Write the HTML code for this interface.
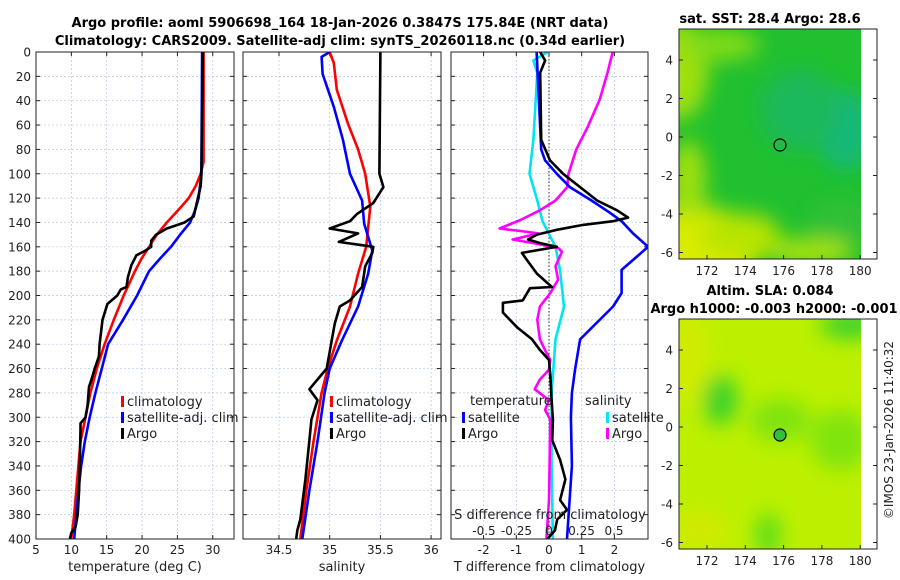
<!DOCTYPE html>
<html><head><meta charset="utf-8"><style>
body{margin:0;background:#fff;}
svg{display:block;font-family:"DejaVu Sans","Liberation Sans",sans-serif;}
</style></head><body>
<svg id="chart" width="900" height="580" viewBox="0 0 900 580">
<defs>
<filter id="blur" x="-50%" y="-50%" width="200%" height="200%"><feGaussianBlur stdDeviation="10"/></filter>
<clipPath id="clipMap1"><rect x="679" y="29" width="182" height="230"/></clipPath>
<clipPath id="clipMap2"><rect x="679" y="319" width="182" height="230"/></clipPath>
<clipPath id="clipP1"><rect x="36" y="52" width="198" height="487"/></clipPath>
<clipPath id="clipP2"><rect x="243" y="52" width="198" height="487"/></clipPath>
<clipPath id="clipP3"><rect x="451" y="52" width="197" height="487"/></clipPath>
</defs>
<text x="340" y="27" font-size="13" font-weight="bold" text-anchor="middle">Argo profile: aoml 5906698_164 18-Jan-2026 0.3847S 175.84E (NRT data)</text>
<text x="340" y="45" font-size="13" font-weight="bold" text-anchor="middle">Climatology: CARS2009. Satellite-adj clim: synTS_20260118.nc (0.34d earlier)</text>

<g>
<text x="770" y="23" font-size="13" font-weight="bold" text-anchor="middle">sat. SST: 28.4 Argo: 28.6</text>
<g clip-path="url(#clipMap1)">
<rect x="679" y="29" width="182" height="230" fill="#20c030"/>
<g filter="url(#blur)">
<ellipse cx="690" cy="250" rx="70" ry="45" fill="#d8ec00"/>
<ellipse cx="740" cy="235" rx="40" ry="22" fill="#b8e400"/>
<ellipse cx="680" cy="70" rx="28" ry="50" fill="#a0e010"/>
<ellipse cx="720" cy="45" rx="40" ry="16" fill="#80dc18"/>
<ellipse cx="688" cy="180" rx="18" ry="40" fill="#a0e010"/>
<ellipse cx="810" cy="252" rx="45" ry="14" fill="#a8e20c"/>
<ellipse cx="845" cy="130" rx="28" ry="40" fill="#18b878"/>
<ellipse cx="800" cy="110" rx="40" ry="40" fill="#1cb85c"/>
<ellipse cx="840" cy="220" rx="30" ry="20" fill="#30c038"/>
</g>
</g>
<rect x="679" y="29" width="198" height="230" fill="none" stroke="#222" stroke-width="1"/>
<circle cx="780" cy="145" r="6" fill="none" stroke="#000" stroke-width="1.2"/>
<g id="map1ticks"></g>
</g>

<g>
<text x="770" y="295" font-size="13" font-weight="bold" text-anchor="middle">Altim. SLA: 0.084</text>
<text x="774" y="313" font-size="13" font-weight="bold" text-anchor="middle">Argo h1000: -0.003 h2000: -0.001</text>
<g clip-path="url(#clipMap2)">
<rect x="679" y="319" width="182" height="230" fill="#bcf000"/>
<g filter="url(#blur)">
<ellipse cx="720" cy="400" rx="18" ry="25" fill="#3ad22a"/>
<ellipse cx="850" cy="325" rx="30" ry="14" fill="#3ad22a"/>
<ellipse cx="780" cy="420" rx="30" ry="22" fill="#80e40c"/>
<ellipse cx="840" cy="440" rx="30" ry="30" fill="#80e40c"/>
<ellipse cx="768" cy="535" rx="12" ry="22" fill="#54dc1c"/>
<ellipse cx="690" cy="360" rx="20" ry="50" fill="#d0ec00"/>
<ellipse cx="700" cy="530" rx="30" ry="20" fill="#d0ea00"/>
</g>
</g>
<rect x="679" y="319" width="198" height="230" fill="none" stroke="#222" stroke-width="1"/>
<circle cx="780" cy="435" r="6" fill="#2ec23a" stroke="#000" stroke-width="1.2"/>
<g id="map2ticks"></g>
<text transform="translate(893,430) rotate(-90)" font-size="12" text-anchor="middle" fill="#222">©IMOS 23-Jan-2026 11:40:32</text>
</g>

<g id="plots"></g>
</svg>
<script>
const depthTicks = [0,20,40,60,80,100,120,140,160,180,200,220,240,260,280,300,320,340,360,380,400];
const tempTicks = [5,10,15,20,25,30];
const salTicks = [34.5,35,35.5,36];
const tdiffTicks = [-2,-1,0,1,2];
const sdiffTicks = [-0.5,-0.25,0,0.25,0.5];
const sdiffTickLabels = ["-0.5","-0.25","0","0.25","0.5"];

const climTDepth = [0,90,100,110,120,130,140,150,160,170,180,200,220,240,260,280,300,320,340,360,380,400];
const climTVal   = [28.7,28.7,28.3,27.6,26.6,25.1,23.5,22.1,21.0,19.9,19.0,17.4,16.0,14.7,13.6,12.7,12.0,11.3,11.0,10.7,10.4,10.0];
const satTDepth = [0,100,110,120,130,140,150,160,170,180,200,220,240,260,280,300,320,340,360,380,400];
const satTVal   = [28.5,28.4,28.2,28.0,27.5,26.8,25.4,24.1,22.5,21.0,19.3,17.3,15.2,14.3,13.4,12.6,11.9,11.4,11.0,10.7,10.4];
const argoTDepth = [0,100,110,120,135,140,143,145,150,155,160,163,167,175,185,193,195,200,207,220,240,250,260,270,275,290,300,305,310,340,360,380,390,395,400];
const argoTVal   = [28.6,28.4,28.3,27.9,27.3,26.0,24.5,23.5,22.0,21.3,21.3,20.5,19.2,18.5,18.0,17.8,17.0,16.5,15.1,14.4,14.0,13.9,13.3,12.8,12.5,12.3,12.0,11.3,11.3,11.2,11.1,10.9,10.6,10.0,9.8];

const climSDepth = [0,9,31,59,80,100,127,160,182,209,237,260,280,320,360,400];
const climSVal   = [35.0,35.04,35.07,35.18,35.28,35.35,35.40,35.36,35.28,35.20,35.07,34.98,34.92,34.84,34.77,34.71];
const satSDepth = [0,4,18,45,72,100,122,141,163,182,209,237,260,280,320,360,400];
const satSVal   = [35.0,34.92,34.93,35.04,35.13,35.20,35.32,35.34,35.42,35.38,35.28,35.12,35.0,34.95,34.88,34.80,34.73];
const argoSDepth = [0,100,111,124,133,139,145,149,156,160,165,176,193,204,209,223,237,260,269,277,286,302,319,351,384,393,400];
const argoSVal   = [35.5,35.49,35.53,35.43,35.27,35.2,35.0,35.28,35.09,35.43,35.42,35.35,35.32,35.2,35.1,35.05,35.02,34.97,34.88,34.80,34.88,34.82,34.80,34.76,34.71,34.68,34.67];

const satTdDepth = [0,80,89,100,111,122,132,139,149,160,179,198,209,236,260,280,300,340,400];
const satTdVal   = [-0.38,-0.24,-0.12,0.24,0.64,1.3,1.86,2.22,2.57,3.03,2.22,2.22,1.96,0.95,0.8,0.7,0.67,0.7,0.55];
const argoTdDepth = [0,7,17,72,89,100,111,122,130,136,139,142,146,150,154,157,160,165,171,182,193,194,204,206,214,226,236,245,253,269,286,302,319,335,351,368,376,384,393,400];
const argoTdVal   = [-0.27,-0.12,-0.27,-0.24,0.03,0.43,0.95,1.47,2.08,2.42,1.96,1.04,0.24,-0.37,-0.64,-0.27,0.24,-0.83,-0.67,-0.37,0.09,-0.58,-0.8,-1.41,-1.41,-0.98,-0.52,-0.27,0.0,0.05,0.08,0.12,0.1,0.34,0.5,0.34,0.55,0.25,0.18,-0.05];
const satSdDepth = [0,7,17,72,100,122,139,160,179,209,236,280,340,400];
const satSdVal   = [-0.01,-0.12,-0.09,-0.12,-0.15,-0.09,-0.05,0.05,0.085,0.115,0.05,0.02,0.02,0.03];
const argoSdDepth = [0,17,39,61,80,100,111,122,130,138,145,147,149,154,157,161,164,176,187,198,209,220,236,245,253,261,269,277,286,294,302,368,400];
const argoSdVal   = [0.49,0.45,0.39,0.30,0.21,0.15,0.14,0.05,-0.07,-0.22,-0.38,-0.22,-0.08,-0.28,-0.12,0.07,0.10,0.05,0.07,0.01,-0.07,-0.09,-0.07,-0.03,0.01,0.0,-0.07,-0.11,0.0,-0.03,0.01,0.0,-0.02];

const latTicks = [4,2,0,-2,-4,-6];
const lonTicks = [172,174,176,178,180];

const NS = "http://www.w3.org/2000/svg";
const yP = p => 52 + p*1.2175;
const xT = t => 36 + (t-5)*7.07;
const xS = s => 279 + (s-34.5)*101.4;
const xTd = d => 549 + d*32.7;
const xSd = d => 549 + d*130;
const lonX = l => 707 + (l-172)*19.15;
const latY1 = l => 137 - l*19.25;
const latY2 = l => 427 - l*19.25;

const root = document.getElementById('plots');
function mk(tag, attrs, parent){
  const e = document.createElementNS(NS, tag);
  for (const k in attrs) e.setAttribute(k, attrs[k]);
  (parent||root).appendChild(e);
  return e;
}
function txt(x,y,s,size,anchor,parent){
  const t = mk('text',{x:x,y:y,'font-size':size,'text-anchor':anchor,fill:'#222'},parent);
  t.textContent = s;
  return t;
}

const panels = [
  {x0:36,x1:234,name:'temperature-panel',ticks:tempTicks,fx:xT,label:'temperature (deg C)',ylabels:true},
  {x0:243,x1:441,name:'salinity-panel',ticks:salTicks,fx:xS,label:'salinity',ylabels:false},
  {x0:451,x1:648,name:'difference-panel',ticks:tdiffTicks,fx:xTd,label:'T difference from climatology',ylabels:false}
];
panels.forEach(P=>{
  const g = mk('g',{});
  
  
  mk('rect',{x:P.x0,y:52,width:P.x1-P.x0,height:487,fill:'#fff'},g);
  depthTicks.forEach(d=>{
    const gl = mk('line',{x1:P.x0,x2:P.x1,y1:yP(d),y2:yP(d),stroke:'#b8c4e8','stroke-width':0.7,'stroke-dasharray':'2,2'},g);
    
    
    mk('line',{x1:P.x0,x2:P.x0+4,y1:yP(d),y2:yP(d),stroke:'#222'},g);
    mk('line',{x1:P.x1,x2:P.x1-4,y1:yP(d),y2:yP(d),stroke:'#222'},g);
    if (P.ylabels){
      const t = txt(31, yP(d)+4.5, String(d), 12, 'end', g);
      
      
    }
  });
  P.ticks.forEach(v=>{
    const x = P.fx(v);
    const gl = mk('line',{x1:x,x2:x,y1:52,y2:539,stroke:'#b8c4e8','stroke-width':0.7,'stroke-dasharray':'2,2'},g);
    
    
    mk('line',{x1:x,x2:x,y1:539,y2:535,stroke:'#222'},g);
    mk('line',{x1:x,x2:x,y1:52,y2:56,stroke:'#222'},g);
    const t = txt(x, 554, String(v), 12, 'middle', g);
    
    
  });
  const at = txt((P.x0+P.x1)/2, 571, P.label, 13, 'middle', g);
  
  
});

function series(depths, vals, fx, color, name, clip){
  const pts = depths.map((d,i)=>fx(vals[i]).toFixed(1)+','+yP(d).toFixed(1)).join(' ');
  const pl = mk('polyline',{points:pts,fill:'none',stroke:color,'stroke-width':2.6,'stroke-linejoin':'round','clip-path':'url(#'+clip+')'});
  
  
}
series(climTDepth, climTVal, xT, '#ff0000', 'climatology-temperature-line', 'clipP1');
series(satTDepth, satTVal, xT, '#0000ff', 'satellite-temperature-line', 'clipP1');
series(argoTDepth, argoTVal, xT, '#000000', 'argo-temperature-line', 'clipP1');
series(climSDepth, climSVal, xS, '#ff0000', 'climatology-salinity-line', 'clipP2');
series(satSDepth, satSVal, xS, '#0000ff', 'satellite-salinity-line', 'clipP2');
series(argoSDepth, argoSVal, xS, '#000000', 'argo-salinity-line', 'clipP2');
const zl = mk('line',{x1:549,x2:549,y1:52,y2:539,stroke:'#333','stroke-width':1,'stroke-dasharray':'1.5,2'});


series(satSdDepth, satSdVal, xSd, '#00e5ee', 'satellite-salinity-diff-line', 'clipP3');
series(argoSdDepth, argoSdVal, xSd, '#ff00ff', 'argo-salinity-diff-line', 'clipP3');
series(satTdDepth, satTdVal, xTd, '#0000ff', 'satellite-temperature-diff-line', 'clipP3');
series(argoTdDepth, argoTdVal, xTd, '#000000', 'argo-temperature-diff-line', 'clipP3');

panels.forEach(P=>{
  mk('rect',{x:P.x0,y:52,width:P.x1-P.x0,height:487,fill:'none',stroke:'#222','stroke-width':1});
});

const sdt = txt(550, 519, 'S difference from climatology', 13, 'middle');


sdiffTicks.forEach((v,i)=>{
  const t = txt(xSd(v), 535, sdiffTickLabels[i], 12, 'middle');
  
  
});

function legend(x, y, color, label){
  const g = mk('g',{});
  
  
  mk('rect',{x:x,y:y-10,width:3,height:11,fill:color},g);
  txt(x+6, y, label, 13, 'start', g);
}
legend(121, 406, '#ff0000', 'climatology');
legend(121, 422, '#0000ff', 'satellite-adj. clim');
legend(121, 438, '#000000', 'Argo');
legend(330, 406, '#ff0000', 'climatology');
legend(330, 422, '#0000ff', 'satellite-adj. clim');
legend(330, 438, '#000000', 'Argo');
const lt = txt(470, 405, 'temperature', 13, 'start');


const ls = txt(585, 405, 'salinity', 13, 'start');


legend(462, 422, '#0000ff', 'satellite');
legend(462, 438, '#000000', 'Argo');
legend(606, 422, '#00e5ee', 'satellite');
legend(606, 438, '#ff00ff', 'Argo');

function mapTicks(gid, latY, yTop, yBot){
  const g = document.getElementById(gid);
  latTicks.forEach(l=>{
    const y = latY(l);
    mk('line',{x1:679,x2:683,y1:y,y2:y,stroke:'#222'},g);
    mk('line',{x1:877,x2:873,y1:y,y2:y,stroke:'#222'},g);
    const t = txt(673, y+4.5, String(l), 12, 'end', g);
    
    
  });
  lonTicks.forEach(l=>{
    const x = lonX(l);
    mk('line',{x1:x,x2:x,y1:yBot,y2:yBot-4,stroke:'#222'},g);
    const t = txt(x, yBot+16, String(l), 12, 'middle', g);
    
    
  });
}
mapTicks('map1ticks', latY1, 29, 259);
mapTicks('map2ticks', latY2, 319, 549);
</script>
</body></html>
